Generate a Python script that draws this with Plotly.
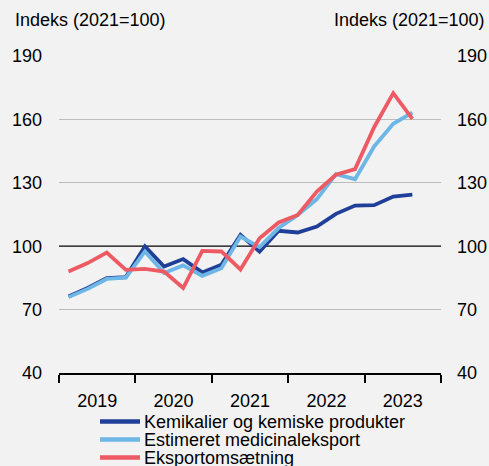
import plotly.graph_objects as go

# Quarterly index values, 2021 = 100
quarters = [
    "2019K1", "2019K2", "2019K3", "2019K4",
    "2020K1", "2020K2", "2020K3", "2020K4",
    "2021K1", "2021K2", "2021K3", "2021K4",
    "2022K1", "2022K2", "2022K3", "2022K4",
    "2023K1", "2023K2", "2023K3",
]
kemikalier = [76.2, 80.2, 84.9, 85.4, 99.9, 90.4, 93.9, 87.6, 91.2, 105.4,
              97.5, 107.3, 106.5, 109.3, 115.3, 119.2, 119.4, 123.5, 124.4]
medicinal = [75.9, 79.8, 84.5, 85.1, 97.5, 87.3, 90.9, 86.0, 89.6, 104.6,
             99.6, 108.6, 114.8, 122.3, 134.1, 131.7, 147.2, 157.9, 163.2]
eksport = [88.0, 92.0, 97.0, 88.8, 89.3, 88.0, 80.2, 97.8, 97.5, 89.0,
           103.8, 111.2, 114.8, 125.9, 133.8, 136.5, 156.3, 172.4, 160.2]

series_names = ["Kemikalier og kemiske produkter", "Estimeret medicinaleksport", "Eksportomsætning"]
series_colors = ["#1f3f98", "#6db6e6", "#ee5a63"]
year_labels = ["2019", "2020", "2021", "2022", "2023"]
y_ticks = [40, 70, 100, 130, 160, 190]
grid_ticks = [70, 130, 160, 190]

# Quarter centres on a continuous year axis
x = [int(q[:4]) + (int(q[-1]) - 0.5) / 4 for q in quarters]

FONT = "Liberation Sans, Arial, sans-serif"
BG = "#f2f2f2"

fig = go.Figure()
for vals, name, color, yax in zip([kemikalier, medicinal, eksport], series_names,
                                  series_colors, ["y", "y", "y2"]):
    fig.add_trace(go.Scatter(x=x, y=vals, mode="lines", name=name, yaxis=yax,
                             line=dict(color=color, width=3.8), showlegend=False))

first_year = int(year_labels[0])
last_year = int(year_labels[-1]) + 1

fig.update_layout(
    width=489, height=466,
    margin=dict(l=59, r=48, t=56, b=93, autoexpand=False),
    paper_bgcolor=BG, plot_bgcolor=BG,
    font=dict(family=FONT, size=18, color="#000000"),
    showlegend=False,
    xaxis=dict(
        range=[first_year, last_year], automargin=False,
        tickmode="array",
        tickvals=[int(y) + 0.5 for y in year_labels],
        ticktext=year_labels,
        ticks="", ticklabelstandoff=11,
        showgrid=False, zeroline=False,
        showline=True, linecolor="#000000", linewidth=1.5,
        minor=dict(tickmode="array", tickvals=list(range(first_year, last_year + 1)),
                   ticks="outside", ticklen=8, tickwidth=2, tickcolor="#000000",
                   showgrid=False),
    ),
    yaxis=dict(
        range=[40, 190], automargin=False, tickmode="array", tickvals=y_ticks,
        showgrid=False, zeroline=False, ticks="", ticklabelstandoff=16,
        minor=dict(tickmode="array", tickvals=grid_ticks, ticks="",
                   showgrid=True, gridcolor="#bcbcbc", gridwidth=1),
    ),
    yaxis2=dict(
        matches="y", overlaying="y", side="right", automargin=False,
        range=[40, 190], tickmode="array", tickvals=y_ticks,
        showgrid=False, zeroline=False, ticks="", ticklabelstandoff=15,
    ),
)

# Reference line at index 100
fig.add_shape(type="line", xref="paper", x0=0, x1=1, yref="y", y0=100, y1=100,
              line=dict(color="#000000", width=1.2), layer="between")

# Axis titles on both sides
fig.add_annotation(text="Indeks (2021=100)", xref="paper", yref="paper", x=0, y=1,
                   xanchor="left", yanchor="middle", xshift=-46, yshift=36,
                   showarrow=False, font=dict(size=18))
fig.add_annotation(text="Indeks (2021=100)", xref="paper", yref="paper", x=1, y=1,
                   xanchor="right", yanchor="middle", xshift=46, yshift=36,
                   showarrow=False, font=dict(size=18))

# Legend entries below the plot
for i, (name, color) in enumerate(zip(series_names, series_colors)):
    offset = -48.5 - 18 * i
    fig.add_shape(type="line", xref="paper", yref="paper",
                  xsizemode="pixel", ysizemode="pixel", xanchor=0, yanchor=0,
                  x0=41, x1=81, y0=offset, y1=offset,
                  line=dict(color=color, width=4.5))
    fig.add_annotation(text=name, xref="paper", yref="paper", x=0, y=0,
                       xanchor="left", yanchor="middle", xshift=83, yshift=offset,
                       showarrow=False, font=dict(size=18))

fig.write_html("out.html")
